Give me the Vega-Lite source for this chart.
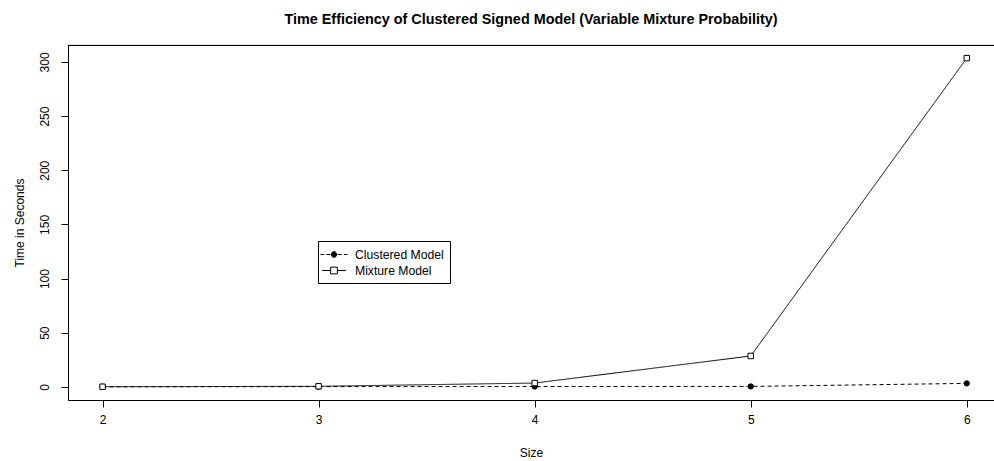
{
  "$schema": "https://vega.github.io/schema/vega-lite/v6.json",
  "autosize": "none",
  "width": 926,
  "height": 355,
  "padding": {"left": 68, "top": 45, "right": 0, "bottom": 61},
  "background": "white",
  "title": {"text": "Time Efficiency of Clustered Signed Model (Variable Mixture Probability)", "font": "Liberation Sans", "fontSize": 14.4, "fontWeight": "bold", "color": "black", "offset": 18, "anchor": "middle"},
  "config": {
    "view": {"stroke": null},
    "font": "Liberation Sans",
    "axis": {"domainColor": "black", "tickColor": "black", "labelColor": "black", "titleColor": "black", "labelFont": "Liberation Sans", "titleFont": "Liberation Sans", "labelFontSize": 12, "titleFontSize": 12, "titleFontWeight": "normal", "grid": false, "tickSize": 7}
  },
  "data": {"values": [
    {"size": 2, "time": 0.1, "series": "Clustered Model"},
    {"size": 3, "time": 0.2, "series": "Clustered Model"},
    {"size": 4, "time": 0.3, "series": "Clustered Model"},
    {"size": 5, "time": 0.4, "series": "Clustered Model"},
    {"size": 6, "time": 3.2, "series": "Clustered Model"},
    {"size": 2, "time": 0.1, "series": "Mixture Model"},
    {"size": 3, "time": 0.5, "series": "Mixture Model"},
    {"size": 4, "time": 3.5, "series": "Mixture Model"},
    {"size": 5, "time": 28.5, "series": "Mixture Model"},
    {"size": 6, "time": 303.5, "series": "Mixture Model"}
  ]},
  "encoding": {
    "x": {"field": "size", "type": "quantitative", "scale": {"domain": [1.84, 6.126], "nice": false, "zero": false},
      "axis": {"values": [2, 3, 4, 5, 6], "title": "Size", "labelPadding": 7, "titlePadding": 22, "labelFlush": false}},
    "y": {"field": "time", "type": "quantitative", "scale": {"domain": [-12.14, 315.64], "nice": false, "zero": false},
      "axis": {"values": [0, 50, 100, 150, 200, 250, 300], "title": "Time in Seconds", "labelAngle": 270, "labelAlign": "center", "labelBaseline": "bottom", "labelPadding": 10, "titlePadding": 12, "labelFlush": false}}
  },
  "layer": [
    {
      "mark": {"type": "rule", "color": "black", "strokeWidth": 1},
      "encoding": {"x": {"datum": 1.84}, "y": {"datum": 315.18}, "x2": {"datum": 6.126}}
    },
    {
      "mark": {"type": "line", "color": "black", "strokeWidth": 1},
      "encoding": {
        "detail": {"field": "series"},
        "strokeDash": {"field": "series", "type": "nominal", "scale": {"domain": ["Clustered Model", "Mixture Model"], "range": [[4, 3], [1, 0]]}, "legend": null}
      }
    },
    {
      "mark": {"type": "point", "filled": true, "stroke": "black", "strokeWidth": 1, "opacity": 1},
      "encoding": {
        "shape": {"field": "series", "type": "nominal", "scale": {"domain": ["Clustered Model", "Mixture Model"], "range": ["circle", "square"]}, "legend": null},
        "fill": {"field": "series", "type": "nominal", "scale": {"domain": ["Clustered Model", "Mixture Model"], "range": ["black", "white"]}, "legend": null},
        "size": {"field": "series", "type": "nominal", "scale": {"domain": ["Clustered Model", "Mixture Model"], "range": [28, 30]}, "legend": null}
      }
    },
    {
      "mark": {"type": "point", "filled": true, "stroke": "black", "strokeWidth": 1, "opacity": 0},
      "encoding": {
        "shape": {"field": "series", "type": "nominal", "title": null,
          "scale": {"domain": ["Clustered Model", "Mixture Model"], "range": [
            "M-1.93,0H-1.4M-1.1,0H-0.55M0.55,0H1.1M1.4,0H1.93M-0.4,0A0.4,0.4 0 1,1 0.4,0A0.4,0.4 0 1,1 -0.4,0Z",
            "M-1.7,0H-0.48M0.48,0H1.7M-0.48,-0.48H0.48V0.48H-0.48Z"
          ]},
          "legend": {"orient": "none", "legendX": 250, "legendY": 196, "strokeColor": "black", "fillColor": "white", "padding": 6, "symbolSize": 196, "symbolOffset": 2.5, "symbolStrokeColor": "black", "symbolStrokeWidth": 1, "symbolOpacity": 1, "labelFont": "Liberation Sans", "labelFontSize": 12.2, "labelColor": "black", "labelOffset": 13.5, "rowPadding": 2, "cornerRadius": 0,
            "encode": {"symbols": {"update": {"stroke": {"value": "black"}, "strokeWidth": {"value": 1}}}}}},
        "fill": {"field": "series", "type": "nominal", "title": null,
          "scale": {"domain": ["Clustered Model", "Mixture Model"], "range": ["black", "white"]},
          "legend": {"orient": "none", "legendX": 250, "legendY": 196, "strokeColor": "black", "fillColor": "white", "padding": 6, "symbolSize": 196, "symbolOffset": 2.5, "symbolStrokeColor": "black", "symbolStrokeWidth": 1, "symbolOpacity": 1, "labelFont": "Liberation Sans", "labelFontSize": 12.2, "labelColor": "black", "labelOffset": 13.5, "rowPadding": 2, "cornerRadius": 0,
            "encode": {"symbols": {"update": {"stroke": {"value": "black"}, "strokeWidth": {"value": 1}}}}}}
      }
    }
  ],
  "resolve": {"scale": {"shape": "independent", "fill": "independent", "size": "independent"}, "legend": {"shape": "independent", "fill": "independent"}}
}
